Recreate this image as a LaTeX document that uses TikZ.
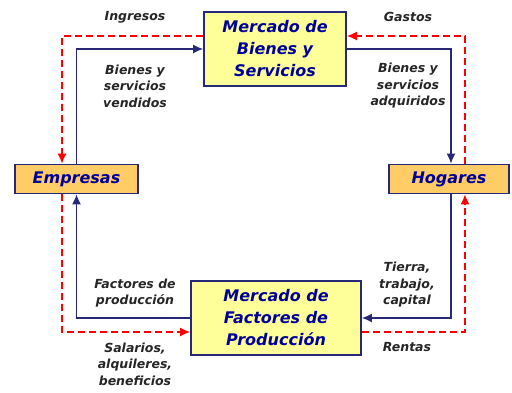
\documentclass[tikz,border=0pt]{standalone}
\usepackage{fontspec}
\setmainfont{DejaVu Sans}
\usetikzlibrary{arrows.meta,positioning}
\definecolor{navytext}{RGB}{0,0,153}
\definecolor{navyline}{RGB}{40,40,120}
\definecolor{boxyellow}{RGB}{255,255,153}
\definecolor{boxorange}{RGB}{255,204,102}
\tikzset{
  market/.style  = {rectangle, draw=navyline, line width=1.6pt, fill=boxyellow, align=center,
                    text=navytext, font=\fontsize{16}{22}\selectfont\bfseries\itshape},
  agent/.style   = {market, fill=boxorange},
  realflow/.style = {draw=navyline, line width=1.6pt, -{Latex[length=10pt,width=9pt]}},
  moneyflow/.style = {draw=red, line width=1.6pt, dash pattern=on 7pt off 4pt, -{Latex[length=10pt,width=9pt]}},
  lbl/.style     = {align=center, text=black!85, font=\fontsize{12.5}{16.5}\selectfont\bfseries\itshape}
}
\begin{document}
\begin{tikzpicture}[x=1pt,y=-1pt]
  \useasboundingbox (0,0) rectangle (512,392);
  %Markets
  \node[market, minimum width=142pt, minimum height=74pt] (mbs) at (275,49) {Mercado de\\Bienes y\\Servicios};
  \node[market, minimum width=170pt, minimum height=74pt] (mfp) at (276,318) {Mercado de\\Factores de\\Producción};
  %Agents
  \node[agent, minimum width=123pt, minimum height=29pt] (emp) at (76.5,179) {Empresas};
  \node[agent, minimum width=120pt, minimum height=29pt] (hog) at (449,179) {Hogares};

  %Real flows
  \draw[realflow] (emp.north) |- (mbs.west);
  \draw[realflow] (mbs.east) -| ([xshift=2pt]hog.north);
  \draw[realflow] ([xshift=2pt]hog.south) |- (mfp.east);
  \draw[realflow] (mfp.west) -| (emp.south);

  %Money flows
  \draw[moneyflow] ([yshift=13pt]mbs.west) -| ([xshift=-14.5pt]emp.north);
  \draw[moneyflow] ([xshift=16pt]hog.north) |- ([yshift=13pt]mbs.east);
  \draw[moneyflow] ([yshift=-14pt]mfp.east) -| ([xshift=16pt]hog.south);
  \draw[moneyflow] ([xshift=-14.5pt]emp.south) |- ([yshift=-14pt]mfp.west);

  %Labels
  \node[lbl] (ingresos) at (135,17) {Ingresos};
  \node[lbl] (gastos) at (408,17) {Gastos};
  \node[lbl] (vendidos) at (135,86) {Bienes y\\servicios\\vendidos};
  \node[lbl] (adquiridos) at (408,86) {Bienes y\\servicios\\adquiridos};
  \node[lbl] (factores) at (135,293) {Factores de\\producción};
  \node[lbl] (salarios) at (135,364) {Salarios,\\alquileres,\\beneficios};
  \node[lbl] (tierra) at (407,285) {Tierra,\\trabajo,\\capital};
  \node[lbl] (rentas) at (407,347) {Rentas};
\end{tikzpicture}
\end{document}
